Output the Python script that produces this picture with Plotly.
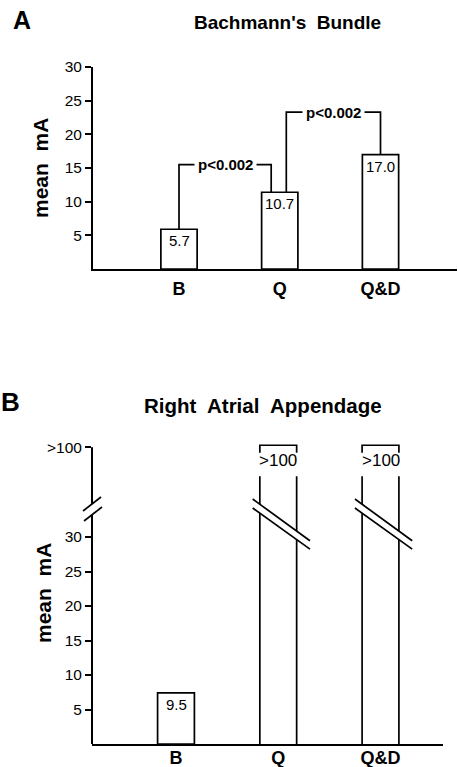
import plotly.graph_objects as go

# ---------------- data ----------------
categories = ["B", "Q", "Q&D"]

# Panel A - Bachmann's Bundle
a_bar_heights = [5.9, 11.4, 17.0]          # heights as drawn against the axis
a_value_labels = ["5.7", "10.7", "17.0"]   # printed values
a_yticks = [5, 10, 15, 20, 25, 30]
a_bracket_from = [0, 1]
a_bracket_to = [1, 2]
a_bracket_level = [15.5, 23.3]
a_bracket_text = ["p<0.002", "p<0.002"]

# Panel B - Right Atrial Appendage
b_bar_heights = [7.4, None, None]          # None = off scale (>100)
b_value_labels = ["9.5", ">100", ">100"]
b_yticks = [5, 10, 15, 20, 25, 30]
b_top_tick_label = ">100"

# ---------------- geometry / style ----------------
W, H = 458, 767
FONT = "Liberation Sans, Arial, Helvetica, sans-serif"
x_pos = list(range(len(categories)))


def py(px):
    return 1 - px / H


def pxx(px):
    return px / W


# panel A pixel frame
A_XL, A_XR = 93, 457
A_Y0PX, A_YTPX = 269, 67
a_unit = 100.75
a_x0 = -(179 - A_XL) / a_unit
a_xr = [a_x0, a_x0 + (A_XR - A_XL) / a_unit]

# panel B pixel frame
B_XL, B_XR = 92, 443
B_Y0PX = 744
b_pxu = 6.9
b_ymax = 44.5
b_unit = 102.25
b_x0 = -(176 - B_XL) / b_unit
b_xr = [b_x0, b_x0 + (B_XR - B_XL) / b_unit]
B_TOP_POS = 43.0          # display position of the ">100" tick
OPEN_TOP = 38.8           # where the open bars stop
BAR_W = 0.36

fig = go.Figure()

# ---- Panel A bars
fig.add_trace(go.Bar(
    x=x_pos, y=a_bar_heights, width=BAR_W,
    marker=dict(color="white", line=dict(color="black", width=1.7)),
    xaxis="x", yaxis="y", showlegend=False, hoverinfo="skip"))

# ---- Panel A brackets
leg_out = [0.0, 0.065]
leg_in = [-0.085, 0.0]
for i in range(len(a_bracket_from)):
    f, t = a_bracket_from[i], a_bracket_to[i]
    xl = f + leg_out[i]
    xr_ = t + leg_in[i]
    lvl = a_bracket_level[i]
    fig.add_trace(go.Scatter(
        x=[xl, xl, xr_, xr_],
        y=[a_bar_heights[f], lvl, lvl, a_bar_heights[t]],
        mode="lines", line=dict(color="black", width=1.7),
        xaxis="x", yaxis="y", showlegend=False, hoverinfo="skip"))
    fig.add_annotation(
        x=(xl + xr_) / 2, y=lvl, xref="x", yref="y",
        xanchor="center", yanchor="middle",
        text="<b>" + a_bracket_text[i] + "</b>", showarrow=False,
        font=dict(family=FONT, size=15, color="black"),
        bgcolor="white", borderpad=3)

# ---- Panel A value labels
for i, h in enumerate(a_bar_heights):
    fig.add_annotation(
        x=x_pos[i], y=h, xref="x", yref="y", xanchor="center", yanchor="top", yshift=-1,
        text=a_value_labels[i], showarrow=False,
        font=dict(family=FONT, size=15, color="black"))

# ---- Panel B normal bars
nb_x = [x_pos[i] for i, h in enumerate(b_bar_heights) if h is not None]
nb_y = [h for h in b_bar_heights if h is not None]
fig.add_trace(go.Bar(
    x=nb_x, y=nb_y, width=BAR_W,
    marker=dict(color="white", line=dict(color="black", width=1.7)),
    xaxis="x2", yaxis="y2", showlegend=False, hoverinfo="skip"))
for i, h in enumerate(b_bar_heights):
    if h is not None:
        fig.add_annotation(
            x=x_pos[i], y=h, xref="x2", yref="y2", xanchor="center", yanchor="top", yshift=-1,
            text=b_value_labels[i], showarrow=False,
            font=dict(family=FONT, size=15, color="black"))

# ---- Panel B open (off-scale) bars
for i, h in enumerate(b_bar_heights):
    if h is None:
        c = x_pos[i]
        l, r = c - BAR_W / 2, c + BAR_W / 2
        fig.add_trace(go.Scatter(
            x=[l, l, None, r, r], y=[0, OPEN_TOP, None, 0, OPEN_TOP],
            mode="lines", line=dict(color="black", width=1.7),
            xaxis="x2", yaxis="y2", showlegend=False, hoverinfo="skip"))
        # bracket above the label
        fig.add_trace(go.Scatter(
            x=[l, l, r, r], y=[B_TOP_POS - 0.8, B_TOP_POS + 0.3, B_TOP_POS + 0.3, B_TOP_POS - 0.8],
            mode="lines", line=dict(color="black", width=1.7),
            xaxis="x2", yaxis="y2", showlegend=False, hoverinfo="skip"))
        fig.add_annotation(
            x=c, y=(OPEN_TOP + B_TOP_POS) / 2 + 0.2, xref="x2", yref="y2",
            xanchor="center", yanchor="middle",
            text=b_value_labels[i], showarrow=False,
            font=dict(family=FONT, size=17, color="black"))
        # break slashes through the bar
        sl, sr = c - 0.25, c + 0.31
        up_l, up_r, lo_l, lo_r = 35.5, 29.45, 34.2, 28.25
        fig.add_shape(type="path", xref="x2", yref="y2", layer="above",
                      path=f"M{sl},{up_l} L{sr},{up_r} L{sr},{lo_r} L{sl},{lo_l} Z",
                      fillcolor="white", line=dict(width=0))
        for (ya, yb) in [(up_l, up_r), (lo_l, lo_r)]:
            fig.add_shape(type="line", xref="x2", yref="y2", layer="above",
                          x0=sl, y0=ya, x1=sr, y1=yb,
                          line=dict(color="black", width=1.7))

# ---- Panel B y-axis line (drawn manually up to the >100 tick) and its break
fig.add_shape(type="line", xref="paper", yref="y2", layer="above",
              x0=pxx(B_XL), x1=pxx(B_XL), y0=0, y1=B_TOP_POS,
              line=dict(color="black", width=2))
bx = B_XL
brk = [(bx - 9, 511, bx + 9, 497), (bx - 8, 521, bx + 10, 507)]
fig.add_shape(type="path", xref="paper", yref="paper", layer="above",
              path=(f"M{pxx(brk[0][0])},{py(brk[0][1])} L{pxx(brk[0][2])},{py(brk[0][3])} "
                    f"L{pxx(brk[1][2])},{py(brk[1][3])} L{pxx(brk[1][0])},{py(brk[1][1])} Z"),
              fillcolor="white", line=dict(width=0))
for (x0, y0, x1, y1) in brk:
    fig.add_shape(type="line", xref="paper", yref="paper", layer="above",
                  x0=pxx(x0), y0=py(y0), x1=pxx(x1), y1=py(y1),
                  line=dict(color="black", width=1.7))


# ---- text: panel letters, titles, axis titles
def paper_text(xc, yc, text, size, angle=0):
    fig.add_annotation(x=pxx(xc), y=py(yc), xref="paper", yref="paper",
                       xanchor="center", yanchor="middle", text=text,
                       textangle=angle, showarrow=False,
                       font=dict(family=FONT, size=size, color="black"))


paper_text(22, 20, "<b>A</b>", 25)
paper_text(10, 402, "<b>B</b>", 26)
paper_text(287, 22, "<b>Bachmann's  Bundle</b>", 19)
paper_text(263, 405, "<b>Right  Atrial  Appendage</b>", 20.5)
paper_text(40, 168, "<b>mean  mA</b>", 21, -90)
paper_text(43, 593, "<b>mean  mA</b>", 21, -90)

tick_font = dict(family=FONT, size=15.5, color="black")
cat_text = ["<b>" + c + "</b>" for c in categories]

fig.update_layout(
    width=W, height=H, margin=dict(l=0, r=0, t=0, b=0, pad=0, autoexpand=False),
    paper_bgcolor="white", plot_bgcolor="white", showlegend=False,
    xaxis=dict(domain=[pxx(A_XL), pxx(A_XR)], range=a_xr, anchor="y", automargin=False,
               tickvals=x_pos, ticktext=cat_text, ticks="outside", ticklen=2,
               tickcolor="rgba(0,0,0,0)",
               tickfont=dict(family=FONT, size=18, color="black"),
               showline=True, linecolor="black", linewidth=2,
               showgrid=False, zeroline=False, fixedrange=True),
    yaxis=dict(domain=[py(A_Y0PX), py(A_YTPX)], range=[0, 30], anchor="x", automargin=False,
               tickvals=a_yticks, ticks="outside", ticklen=6, tickwidth=1.5,
               tickcolor="black", tickfont=tick_font,
               showline=True, linecolor="black", linewidth=2,
               showgrid=False, zeroline=False, fixedrange=True),
    xaxis2=dict(domain=[pxx(B_XL), pxx(B_XR)], range=b_xr, anchor="y2", automargin=False,
                tickvals=x_pos, ticktext=cat_text, ticks="", ticklen=0,
                ticklabelstandoff=-4,
                tickfont=dict(family=FONT, size=18, color="black"),
                showline=True, linecolor="black", linewidth=2,
                showgrid=False, zeroline=False, fixedrange=True),
    yaxis2=dict(domain=[py(B_Y0PX), py(B_Y0PX - b_ymax * b_pxu)], range=[0, b_ymax],
                anchor="x2", automargin=False,
                tickvals=b_yticks + [B_TOP_POS],
                ticktext=[str(t) for t in b_yticks] + [b_top_tick_label],
                ticks="outside", ticklen=6, tickwidth=1.5, tickcolor="black",
                tickfont=tick_font, showline=False,
                showgrid=False, zeroline=False, fixedrange=True),
)

fig.write_html("out.html", config={"displayModeBar": False},
               post_script="document.body.style.margin='0px';")
